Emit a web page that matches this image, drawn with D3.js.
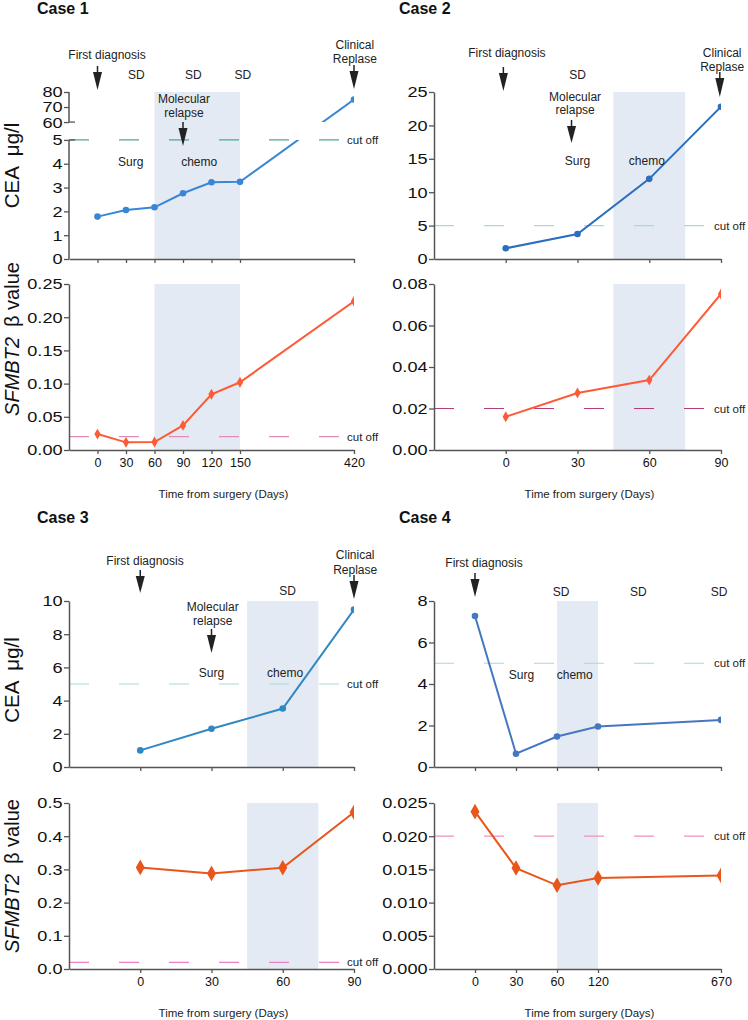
<!DOCTYPE html>
<html>
<head>
    <meta charset="utf-8">
    <title>CEA and SFMBT2 by case</title>
    <script src="https://d3js.org/d3.v7.min.js"></script>
    <style>
        body { margin: 0; background: #fff; }
    </style>
</head>
<body>
<script>
// ---- data ----
const case1Days = [0, 30, 60, 90, 120, 150, 420];
const case1CEA = [1.78, 2.06, 2.17, 2.76, 3.22, 3.24, 75];
const case1Beta = [0.024, 0.0115, 0.012, 0.037, 0.084, 0.102, 0.224];

const case2Days = [0, 30, 60, 90];
const case2CEA = [1.6, 3.75, 12.0, 22.8];
const case2Beta = [0.016, 0.0275, 0.0337, 0.0752];

const case3Days = [0, 30, 60, 90];
const case3CEA = [1.0, 2.3, 3.52, 9.48];
const case3Beta = [0.306, 0.288, 0.305, 0.472];

const case4Days = [0, 30, 60, 120, 670];
const case4CEA = [7.28, 0.64, 1.47, 1.95, 2.27];
const case4Beta = [0.0237, 0.0152, 0.0126, 0.0137, 0.0141];

const case1CeaTicks = [0, 1, 2, 3, 4, 5, 60, 70, 80];
const case1BetaTicks = [0, 0.05, 0.10, 0.15, 0.20, 0.25];
const case2CeaTicks = [0, 5, 10, 15, 20, 25];
const case2BetaTicks = [0, 0.02, 0.04, 0.06, 0.08];
const case3CeaTicks = [0, 2, 4, 6, 8, 10];
const case3BetaTicks = [0, 0.1, 0.2, 0.3, 0.4, 0.5];
const case4CeaTicks = [0, 2, 4, 6, 8];
const case4BetaTicks = [0, 0.005, 0.010, 0.015, 0.020, 0.025];

const ceaCutoff = 5;
const betaCutoff = 0.02;

const FONT = "'Liberation Sans', Arial, Helvetica, sans-serif";
const width = 748, height = 1020;

const colX = [[69, 354], [434, 721]];
const rowY = [
    { top: [92, 259], bot: [284, 450] },
    { top: [601, 767], bot: [803, 969] }
];

const cases = [
    {
        name: "Case 1", col: 0, row: 0,
        days: case1Days, cea: case1CEA, beta: case1Beta,
        ceaTicks: case1CeaTicks, betaTicks: case1BetaTicks, betaFmt: ".2f",
        ceaBreak: { low: 5, high: 60, max: 80, lowFrac: 0.713, highFrac: 0.82 },
        betaMax: 0.25, win: [60, 150],
        xDays: [-30, 150, 420], xSlots: [-1, 5, 9],
        ceaColor: "#3a86d6", betaColor: "#ff5a36",
        ceaCutColor: "#4fa596", betaCutColor: "#e28bb8", mSize: 34,
        yLabels: { cea: -10, beta: -28 },
        notes: [["First diagnosis", 10, -37], ["SD", 41, -17], ["SD", 101, -17], ["SD", 157, -17],
            ["Molecular", 91, 7], ["relapse", 91, 21], ["Surg", 35, 70], ["chemo", 107, 70],
            ["Clinical", 422, -47], ["Replase", 422, -33]],
        arrows: [[0, -26, -2], [90, 30, 54], [420, -27, -3]]
    },
    {
        name: "Case 2", col: 1, row: 0,
        days: case2Days, cea: case2CEA, beta: case2Beta,
        ceaTicks: case2CeaTicks, betaTicks: case2BetaTicks, betaFmt: ".2f",
        ceaMax: 25, betaMax: 0.08, win: [45, 75],
        xDays: [-30, 90], xSlots: [-1, 3],
        ceaColor: "#2b6dbf", betaColor: "#ff5a36",
        ceaCutColor: "#a9d9d6", betaCutColor: "#b43c78", mSize: 34,
        notes: [["First diagnosis", 0.5, -39], ["SD", 30, -17], ["Molecular", 29, 5], ["relapse", 29, 18],
            ["Surg", 30, 69], ["chemo", 59, 69], ["Clinical", 90.5, -39], ["Replase", 90.5, -25]],
        arrows: [[-1, -25, -1], [27.5, 28, 51], [89.5, -20, 5]]
    },
    {
        name: "Case 3", col: 0, row: 1,
        days: case3Days, cea: case3CEA, beta: case3Beta,
        ceaTicks: case3CeaTicks, betaTicks: case3BetaTicks, betaFmt: ".1f",
        ceaMax: 10, betaMax: 0.5, win: [45, 75],
        xDays: [-30, 90], xSlots: [-1, 3],
        ceaColor: "#2f87c4", betaColor: "#e8561c",
        ceaCutColor: "#a9d9d6", betaCutColor: "#ee80c8", mSize: 70,
        yLabels: { cea: -4, beta: -10 },
        notes: [["First diagnosis", 2, -40], ["SD", 62, -10], ["Molecular", 30.5, 6], ["relapse", 30.5, 20],
            ["Surg", 30, 72], ["chemo", 61, 72], ["Clinical", 90.5, -46], ["Replase", 90.5, -31]],
        arrows: [[0, -31, -8], [30, 28, 52], [90, -26, -2]]
    },
    {
        name: "Case 4", col: 1, row: 1,
        days: case4Days, cea: case4CEA, beta: case4Beta,
        ceaTicks: case4CeaTicks, betaTicks: case4BetaTicks, betaFmt: ".3f",
        ceaMax: 8, betaMax: 0.025, win: [60, 120],
        xDays: [-30, 0, 30, 60, 120, 670], xSlots: [-1, 0, 1, 2, 3, 6],
        ceaColor: "#4676c2", betaColor: "#e8561c",
        ceaCutColor: "#a9d9d6", betaCutColor: "#f090c4", mSize: 70,
        notes: [["First diagnosis", 6.6, -38], ["SD", 66, -9], ["SD", 300, -9], ["SD", 661, -9],
            ["Surg", 34, 74], ["chemo", 86, 74]],
        arrows: [[0, -28, -4]]
    }
];

const svg = d3.select("body")
    .append("svg")
    .attr("width", width)
    .attr("height", height)
    .style("font-family", FONT);

let clipId = 0;

function drawPanel(c, g, x, y, vals, ticks, fmt, yr, kind) {
    const [x0, x1] = colX[c.col];
    const [pTop, pBot] = yr;

    // treatment window
    g.append("rect")
        .attr("x", x(c.win[0]))
        .attr("y", pTop)
        .attr("width", x(c.win[1]) - x(c.win[0]))
        .attr("height", pBot - pTop)
        .attr("fill", "#e3eaf3");

    // cut off line
    const cut = kind === "cea" ? ceaCutoff : betaCutoff;
    g.append("line")
        .attr("x1", x0).attr("x2", x1 - 12)
        .attr("y1", y(cut)).attr("y2", y(cut))
        .attr("stroke", kind === "cea" ? c.ceaCutColor : c.betaCutColor)
        .attr("stroke-width", 1.2)
        .attr("stroke-dasharray", "20,30");
    g.append("text")
        .attr("x", x1 - 7)
        .attr("y", y(cut))
        .attr("dy", "0.35em")
        .attr("font-size", 11.5)
        .attr("fill", "#222")
        .text("cut off");

    // x axis
    const xa = g.append("g")
        .attr("transform", `translate(0,${pBot})`)
        .call(d3.axisBottom(x).tickValues(c.days).tickSize(4).tickSizeOuter(0).tickPadding(4)
            .tickFormat(kind === "beta" ? d3.format("d") : () => ""));
    xa.select(".domain").attr("stroke", "#555").attr("stroke-width", 1.5);
    xa.selectAll(".tick line").attr("stroke", "#555").attr("stroke-width", 1.3);
    xa.selectAll(".tick text").attr("font-size", 12.5).attr("fill", "#111").style("font-family", FONT);

    // y axis (labels are wide and short in the original, so stretch them a bit)
    const ya = g.append("g")
        .attr("transform", `translate(${x0},0)`)
        .call(d3.axisLeft(y).tickValues(ticks).tickSize(5).tickSizeOuter(0).tickPadding(1)
            .tickFormat(d3.format(fmt)));
    ya.selectAll(".tick line").attr("stroke", "#555").attr("stroke-width", 1.3);
    ya.selectAll(".tick text")
        .attr("font-size", 15.5)
        .attr("x", -5.5)
        .attr("transform", "scale(1.17,1)")
        .attr("fill", "#111")
        .style("font-family", FONT);
    if (kind === "cea" && c.ceaBreak) {
        const b = c.ceaBreak;
        ya.select(".domain").remove();
        [[0, b.low], [b.high, b.max]].forEach(([a, z]) => {
            ya.append("line").attr("x1", 0).attr("x2", 0)
                .attr("y1", y(a)).attr("y2", y(z))
                .attr("stroke", "#555").attr("stroke-width", 1.5);
        });
        [b.low, b.high].forEach(v => {
            ya.append("line").attr("x1", 0).attr("x2", 6)
                .attr("y1", y(v)).attr("y2", y(v))
                .attr("stroke", "#555").attr("stroke-width", 1.3);
        });
    } else {
        ya.select(".domain").attr("stroke", "#555").attr("stroke-width", 1.5);
    }

    // clip to plot area (and around the axis break)
    const id = "clip" + (clipId++);
    const cp = svg.append("clipPath").attr("id", id);
    if (kind === "cea" && c.ceaBreak) {
        cp.append("rect").attr("x", x0).attr("y", pTop - 6)
            .attr("width", x1 - x0).attr("height", y(c.ceaBreak.high) - pTop + 6);
        cp.append("rect").attr("x", x0).attr("y", y(c.ceaBreak.low))
            .attr("width", x1 - x0).attr("height", pBot - y(c.ceaBreak.low));
    } else {
        cp.append("rect").attr("x", x0).attr("y", pTop - 6)
            .attr("width", x1 - x0).attr("height", pBot - pTop + 6);
    }

    const pts = c.days.map((d, i) => [d, vals[i]]);
    const color = kind === "cea" ? c.ceaColor : c.betaColor;
    const plot = g.append("g").attr("clip-path", `url(#${id})`);

    plot.append("path")
        .datum(pts)
        .attr("fill", "none")
        .attr("stroke", color)
        .attr("stroke-width", 2)
        .attr("d", d3.line().x(d => x(d[0])).y(d => y(d[1])));

    if (kind === "cea") {
        plot.selectAll(".pt")
            .data(pts)
            .enter()
            .append("circle")
            .attr("cx", d => x(d[0]))
            .attr("cy", d => y(d[1]))
            .attr("r", 3.3)
            .attr("fill", color);
    } else {
        plot.selectAll(".pt")
            .data(pts)
            .enter()
            .append("path")
            .attr("transform", d => `translate(${x(d[0])},${y(d[1])})`)
            .attr("d", d3.symbol(d3.symbolDiamond, c.mSize))
            .attr("fill", color);
    }
}

function drawArrow(g, ax, y1, y2) {
    g.append("line")
        .attr("x1", ax).attr("x2", ax)
        .attr("y1", y1).attr("y2", y1 + 8)
        .attr("stroke", "#222").attr("stroke-width", 1.5);
    g.append("path")
        .attr("d", `M${ax - 4.5},${y1 + 6}L${ax + 4.5},${y1 + 6}L${ax},${y2}Z`)
        .attr("fill", "#222");
}

cases.forEach(c => {
    const [x0, x1] = colX[c.col];
    const rows = rowY[c.row];
    const g = svg.append("g");

    // x: piecewise slots (gap before the last visit)
    const sMin = d3.min(c.xSlots), sMax = d3.max(c.xSlots);
    const x = d3.scaleLinear()
        .domain(c.xDays)
        .range(c.xSlots.map(s => x0 + (s - sMin) / (sMax - sMin) * (x1 - x0)));

    const [tTop, tBot] = rows.top;
    let yCea;
    if (c.ceaBreak) {
        const b = c.ceaBreak, h = tBot - tTop;
        yCea = d3.scaleLinear()
            .domain([0, b.low, b.high, b.max])
            .range([tBot, tBot - b.lowFrac * h, tBot - b.highFrac * h, tTop]);
    } else {
        yCea = d3.scaleLinear().domain([0, c.ceaMax]).range([tBot, tTop]);
    }
    const [bTop, bBot] = rows.bot;
    const yBeta = d3.scaleLinear().domain([0, c.betaMax]).range([bBot, bTop]);

    drawPanel(c, g, x, yCea, c.cea, c.ceaTicks, "d", rows.top, "cea");
    drawPanel(c, g, x, yBeta, c.beta, c.betaTicks, c.betaFmt, rows.bot, "beta");

    // case title
    g.append("text")
        .attr("x", c.col === 0 ? 37 : 399)
        .attr("y", c.row === 0 ? 8 : 517)
        .attr("dy", "0.35em")
        .attr("font-size", 16)
        .attr("font-weight", "bold")
        .attr("fill", "#111")
        .text(c.name);

    // annotations
    c.notes.forEach(([t, d, dy]) => {
        g.append("text")
            .attr("x", x(d))
            .attr("y", tTop + dy)
            .attr("dy", "0.35em")
            .attr("text-anchor", "middle")
            .attr("font-size", 12)
            .attr("fill", "#222")
            .text(t);
    });
    c.arrows.forEach(([d, a, b]) => drawArrow(g, x(d), tTop + a, tTop + b));

    // x title
    g.append("text")
        .attr("x", (x0 + x1) / 2 + 12)
        .attr("y", bBot + 44)
        .attr("dy", "0.35em")
        .attr("text-anchor", "middle")
        .attr("font-size", 11.5)
        .attr("fill", "#222")
        .text("Time from surgery (Days)");

    // y titles (left column only)
    if (c.yLabels) {
        const ceaT = g.append("text")
            .attr("transform", `translate(19,${(tTop + tBot) / 2 + c.yLabels.cea}) rotate(-90)`)
            .attr("text-anchor", "middle")
            .attr("font-size", 20.5)
            .attr("fill", "#111");
        ceaT.append("tspan").text("CEA");
        ceaT.append("tspan").attr("dx", 10).text("μg/l");

        const betaT = g.append("text")
            .attr("transform", `translate(19,${(bTop + bBot) / 2 + c.yLabels.beta}) rotate(-90)`)
            .attr("text-anchor", "middle")
            .attr("font-size", 20)
            .attr("fill", "#111");
        betaT.append("tspan").attr("font-style", "italic").text("SFMBT2");
        betaT.append("tspan").attr("dx", 10).text("β value");
    }
});
</script>
</body>
</html>
